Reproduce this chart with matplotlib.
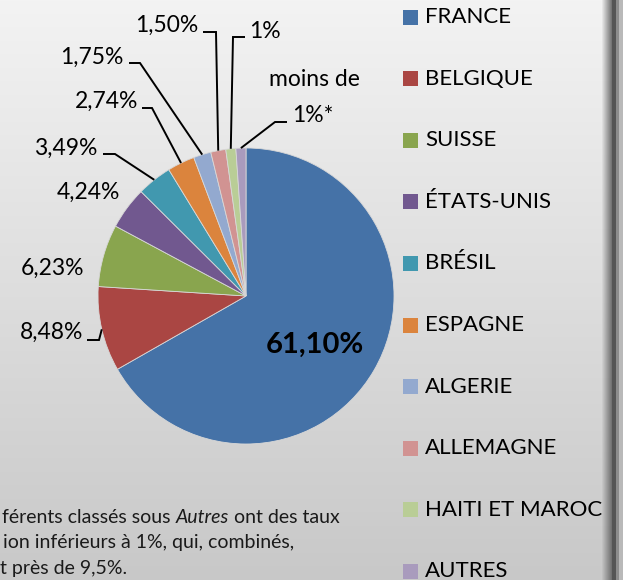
import numpy as np
import matplotlib
matplotlib.use("Agg")
import matplotlib.pyplot as plt
from matplotlib.patches import Rectangle

# ---- data ----
categories = ["FRANCE", "BELGIQUE", "SUISSE", "ÉTATS-UNIS", "BRÉSIL", "ESPAGNE",
              "ALGERIE", "ALLEMAGNE", "HAITI ET MAROC", "AUTRES"]
values = [61.10, 8.48, 6.23, 4.24, 3.49, 2.74, 1.75, 1.50, 1.0, 1.0]
labels = ["61,10%", "8,48%", "6,23%", "4,24%", "3,49%", "2,74%", "1,75%",
          "1,50%", "1%", "moins de\n1%*"]
colors = ["#4572A7", "#AA4643", "#89A54E", "#71588F", "#4198AF", "#DB843D",
          "#93A9CF", "#D19392", "#B9CD96", "#A99BBD"]
note_lines = [["férents classés sous ", ("Autres", "italic"), " ont des taux"],
              ["ion inférieurs à 1%, qui, combinés,"],
              ["t près de 9,5%."]]

W, H = 623, 580
FONT = "Lato"
fig = plt.figure(figsize=(W / 100, H / 100), dpi=100)

# ---- background gradient + right shadow ----
bg = np.zeros((H, W, 3))
g = np.linspace(243, 200, H)[:, None] * np.ones((1, W))
cols = np.arange(W)
shade = g.copy()
ramp = (cols >= 601) & (cols < 612)
t = (cols[ramp] - 601) / 11.0
shade[:, ramp] = g[:, ramp] * (1 - t) + 105 * t
shade[:, (cols >= 612) & (cols < 616)] = 85
shade[:, (cols >= 616) & (cols < 619)] = 140
shade[:, cols >= 619] = 185
bg[:] = (shade / 255.0)[:, :, None]
bax = fig.add_axes([0, 0, 1, 1], zorder=-10)
bax.imshow(bg, aspect="auto", extent=[0, W, H, 0])
bax.set_xlim(0, W)
bax.set_ylim(H, 0)
bax.axis("off")

# ---- pie ----
cx, cy, R = 246, 296, 148
ax = fig.add_axes([(cx - R) / W, (H - cy - R) / H, 2 * R / W, 2 * R / H], zorder=0)
wedges, _ = ax.pie(values, colors=colors, startangle=90, counterclock=False,
                   wedgeprops=dict(linewidth=0.6, edgecolor="#d8d8d8"))
ax.set_xlim(-1, 1)
ax.set_ylim(-1, 1)
ax.axis("off")

# overlay axes in pixel coordinates for texts and leaders
ov = fig.add_axes([0, 0, 1, 1], zorder=10)
ov.set_xlim(0, W)
ov.set_ylim(H, 0)
ov.axis("off")
ov.patch.set_alpha(0)


def wedge_point(i, r=1.0):
    w = wedges[i]
    a = np.deg2rad((w.theta1 + w.theta2) / 2)
    return cx + R * r * np.cos(a), cy - R * r * np.sin(a)


lab_fs = 16.5
label_pos = {
    1: (83, 332, "right"),
    2: (84, 268, "right"),
    3: (120, 192, "right"),
    4: (97, 148, "right"),
    5: (138, 101, "right"),
    6: (123, 57, "right"),
    7: (198, 25, "right"),
    8: (249, 32, "left"),
}
leaders = {
    1: (87, 340, 99),
    4: (103, 154, 115),
    5: (142, 108, 152),
    6: (129, 63, 140),
    7: (203, 32, 216),
    8: (245, 37, 233),
    9: (287, 122, 275),
}
for i, (x, y, ha) in label_pos.items():
    ov.text(x, y, labels[i], ha=ha, va="center", fontsize=lab_fs,
            family=FONT, color="black")
l1, l2 = labels[9].split("\n")
ov.text(314, 80, l1, ha="center", va="center", fontsize=lab_fs, family=FONT)
ov.text(313, 115, l2, ha="center", va="center", fontsize=lab_fs, family=FONT)

for i, (x0, y0, xe) in leaders.items():
    wx, wy = wedge_point(i)
    ov.plot([x0, xe, wx], [y0, y0, wy], color="black", lw=1.4,
            solid_capstyle="butt", solid_joinstyle="miter", zorder=5)

ov.text(315, 345, labels[0], ha="center", va="center", fontsize=21,
        fontweight="bold", family=FONT, color="black")

# ---- legend ----
for i, (cat, col) in enumerate(zip(categories, colors)):
    yc = 17 + i * 61.6
    ov.add_patch(Rectangle((403, yc - 7.5), 15, 15, facecolor=col,
                           edgecolor="none", zorder=4))
    ov.text(425, yc, cat, ha="left", va="center", fontsize=16,
            family=FONT, color="black")

# ---- note text (cut off on the left) ----
fig.canvas.draw()
renderer = fig.canvas.get_renderer()
starts = [2, 3, 0]
baselines = [523, 548, 574]
for parts, x0, yb in zip(note_lines, starts, baselines):
    x = x0
    for p in parts:
        if isinstance(p, tuple):
            s, style = p
        else:
            s, style = p, "normal"
        tt = ov.text(x, yb, s, ha="left", va="baseline", fontsize=14,
                     family=FONT, style=style, color="#1a1a1a")
        bb = tt.get_window_extent(renderer)
        x = x + bb.width

fig.savefig("out.png", dpi=100)
